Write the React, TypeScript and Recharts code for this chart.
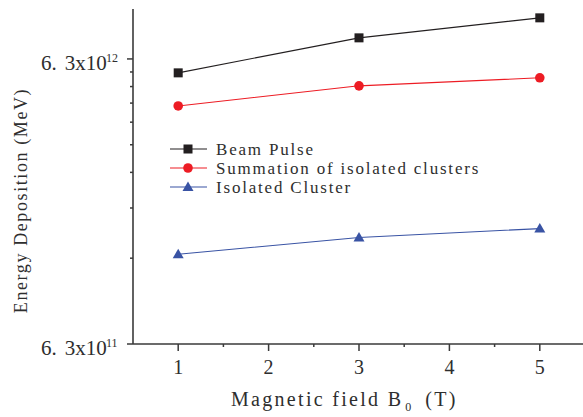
import { Legend, Line, LineChart, XAxis, YAxis } from "recharts";

// magnetic field B0 (T)
const FIELD = [1, 3, 5];
// energy deposition (MeV)
const BEAM_PULSE = [5.63e12, 7.47e12, 8.78e12];
const SUM_ISOLATED = [4.31e12, 5.07e12, 5.41e12];
const ISOLATED_CLUSTER = [1.3e12, 1.49e12, 1.6e12];

const X_TICKS = [1, 1.5, 2, 2.5, 3, 3.5, 4, 4.5, 5];
const Y_MAJOR = [6.3e11, 6.3e12];
const Y_MINOR = [1.26e12, 1.89e12, 2.52e12, 3.15e12, 3.78e12, 4.41e12, 5.04e12, 5.67e12];
const Y_DOMAIN = [6.3e11, 9.43e12];

const BLACK = "#231f20";
const RED = "#ed1c24";
const BLUE = "#3953a4";
const AXIS = "#3a3a3a";
const TEXT = "#2e2e2e";
const FONT = "'Liberation Serif', 'DejaVu Serif', serif";

const data = FIELD.map((b, i) => ({
  field: b,
  beam: BEAM_PULSE[i],
  sum: SUM_ISOLATED[i],
  iso: ISOLATED_CLUSTER[i],
}));

const SERIES = [
  { key: "beam", name: "Beam Pulse", color: BLACK, shape: "square" },
  { key: "sum", name: "Summation of isolated clusters", color: RED, shape: "circle" },
  { key: "iso", name: "Isolated Cluster", color: BLUE, shape: "triangle" },
];

function Marker({ cx, cy, shape, color }: { cx: number; cy: number; shape: string; color: string }) {
  if (shape === "square") return <rect x={cx - 4.5} y={cy - 4.5} width={9} height={9} fill={color} />;
  if (shape === "circle") return <circle cx={cx} cy={cy} r={4.8} fill={color} />;
  return <polygon points={`${cx},${cy - 5.5} ${cx + 5.5},${cy + 4} ${cx - 5.5},${cy + 4}`} fill={color} />;
}

const makeDot = (shape: string, color: string) => (props: any) => {
  if (props.cx == null || props.cy == null) return <g key={props.key} />;
  return <Marker key={props.key} cx={props.cx} cy={props.cy} shape={shape} color={color} />;
};

function XTick({ x, y, payload }: any) {
  const major = Number.isInteger(payload.value);
  return (
    <g>
      <line x1={x} x2={x} y1={y} y2={y + (major ? 7 : 3)} stroke={AXIS} strokeWidth={1.5} />
      {major && (
        <text x={x} y={y + 30} textAnchor="middle" fontFamily={FONT} fontSize={20} fill={TEXT}>
          {payload.value}
        </text>
      )}
    </g>
  );
}

function TopTick({ x, y, payload }: any) {
  const major = Number.isInteger(payload.value);
  return <line x1={x} x2={x} y1={y} y2={y - (major ? 3 : 2)} stroke={AXIS} strokeWidth={1.5} />;
}

function YTick({ x, y, payload }: any) {
  const major = Y_MAJOR.some((v) => Math.abs(v - payload.value) / v < 1e-6);
  if (!major) return <line x1={x - 3} x2={x} y1={y} y2={y} stroke={AXIS} strokeWidth={1.5} />;
  const exp = Math.floor(Math.log10(payload.value));
  const mant = (payload.value / 10 ** exp).toFixed(1);
  return (
    <g>
      <line x1={x - 6} x2={x} y1={y} y2={y} stroke={AXIS} strokeWidth={1.5} />
      <text x={x - 92} y={y + 11} fontFamily={FONT} fontSize={21} fill={TEXT}>
        {mant.slice(0, 2)}
        <tspan dx={8}>{mant.slice(2)}x10</tspan>
      </text>
      <text x={x - 27} y={y + 3} fontFamily={FONT} fontSize={12} fill={TEXT}>
        {exp}
      </text>
    </g>
  );
}

function LegendBox() {
  return (
    <svg width={330} height={60}>
      {SERIES.map((s, i) => {
        const cy = 10 + i * 19;
        return (
          <g key={s.key}>
            <line x1={2} x2={39} y1={cy} y2={cy} stroke={s.color} strokeWidth={1.2} />
            <Marker cx={20} cy={cy} shape={s.shape} color={s.color} />
            <text x={48} y={cy + 6} fontFamily={FONT} fontSize={17} letterSpacing={1.8} fill={TEXT}>
              {s.name}
            </text>
          </g>
        );
      })}
    </svg>
  );
}

const xLabel = ({ viewBox }: any) => (
  <text x={viewBox.x + 98} y={viewBox.y + 62} fontFamily={FONT} fontSize={20} letterSpacing={2.3} fill={TEXT}>
    Magnetic field B
    <tspan fontSize={12} dy={5} dx={2} letterSpacing={0}>0</tspan>
    <tspan dy={-5} dx={14}>(T)</tspan>
  </text>
);

const yLabel = ({ viewBox }: any) => {
  const cy = viewBox.y + viewBox.height / 2 + 24;
  return (
    <text
      x={21}
      y={cy}
      transform={`rotate(-90 21 ${cy})`}
      textAnchor="middle"
      dominantBaseline="central"
      fontFamily={FONT}
      fontSize={18}
      letterSpacing={1.6}
      fill={TEXT}
    >
      Energy Deposition (MeV)
    </text>
  );
};

export default function App() {
  return (
    <div style={{ position: "absolute", left: 0, top: 0, width: 583, height: 417, overflow: "hidden", background: "#fff" }}>
      <LineChart width={590} height={417} data={data} margin={{ top: 9, right: 5, bottom: 0, left: 0 }}>
        <XAxis
          dataKey="field"
          type="number"
          domain={[0.5, 5.5]}
          ticks={X_TICKS}
          allowDataOverflow
          height={73}
          axisLine={{ stroke: AXIS, strokeWidth: 1.6 }}
          tickLine={false}
          tickSize={0}
          tickMargin={0}
          tick={<XTick />}
          interval={0}
          label={xLabel}
        />
        <XAxis
          xAxisId="top"
          orientation="top"
          dataKey="field"
          type="number"
          domain={[0.5, 5.5]}
          ticks={X_TICKS}
          allowDataOverflow
          height={0}
          axisLine={{ stroke: AXIS, strokeWidth: 1.6 }}
          tickLine={false}
          tickSize={0}
          tickMargin={0}
          tick={<TopTick />}
          interval={0}
        />
        <YAxis
          type="number"
          scale="log"
          domain={Y_DOMAIN}
          allowDataOverflow
          ticks={[...Y_MAJOR, ...Y_MINOR]}
          width={133}
          axisLine={{ stroke: AXIS, strokeWidth: 1.6 }}
          tickLine={false}
          tickSize={0}
          tickMargin={0}
          tick={<YTick />}
          interval={0}
          label={yLabel}
        />
        <Legend
          layout="vertical"
          align="center"
          verticalAlign="middle"
          wrapperStyle={{ left: 168, top: 139, width: 330, height: 60 }}
          content={() => <LegendBox />}
        />
        {SERIES.map((s) => (
          <Line
            key={s.key}
            dataKey={s.key}
            name={s.name}
            stroke={s.color}
            strokeWidth={1.1}
            dot={makeDot(s.shape, s.color)}
            activeDot={false}
            isAnimationActive={false}
          />
        ))}
      </LineChart>
    </div>
  );
}
